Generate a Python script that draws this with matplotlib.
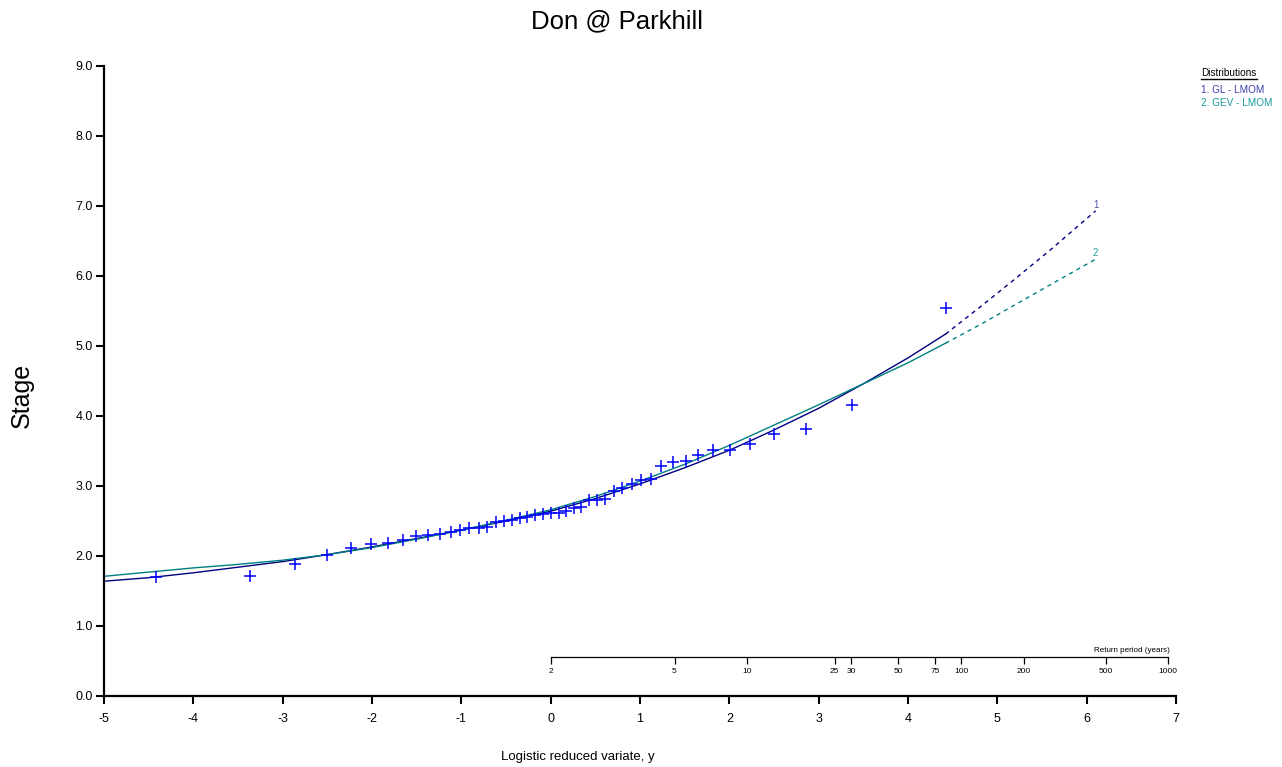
import numpy as np
import matplotlib
matplotlib.use('Agg')
import matplotlib.pyplot as plt
from matplotlib.lines import Line2D

plt.rcParams['font.family'] = ['Liberation Sans', 'DejaVu Sans']

# ---- data ----
reduced_variate = [-4.42, -3.37, -2.86, -2.50, -2.23, -2.01, -1.82, -1.65, -1.51, -1.37,
                   -1.24, -1.12, -1.01, -0.91, -0.80, -0.71, -0.61, -0.52, -0.43, -0.34,
                   -0.26, -0.17, -0.09, 0.00, 0.09, 0.17, 0.26, 0.34, 0.43, 0.52,
                   0.61, 0.71, 0.80, 0.91, 1.01, 1.12, 1.24, 1.37, 1.51, 1.65,
                   1.82, 2.01, 2.23, 2.50, 2.86, 3.37, 4.42]
stage = [1.70, 1.72, 1.88, 2.02, 2.11, 2.17, 2.19, 2.23, 2.29, 2.30,
         2.32, 2.35, 2.37, 2.40, 2.40, 2.42, 2.49, 2.50, 2.52, 2.54,
         2.56, 2.59, 2.60, 2.61, 2.62, 2.64, 2.68, 2.70, 2.80, 2.80,
         2.81, 2.93, 2.97, 3.03, 3.09, 3.10, 3.29, 3.34, 3.36, 3.45,
         3.51, 3.51, 3.60, 3.74, 3.81, 4.16, 5.55]

curve_x_solid = [-5.0, -4.5, -4.0, -3.5, -3.0, -2.5, -2.0, -1.5, -1.0, -0.5,
                 0.0, 0.5, 1.0, 1.5, 2.0, 2.5, 3.0, 3.5, 4.0, 4.42]
gl_solid = [1.64, 1.69, 1.76, 1.84, 1.92, 2.02, 2.13, 2.25, 2.37, 2.50,
            2.64, 2.82, 3.03, 3.26, 3.51, 3.80, 4.11, 4.46, 4.83, 5.17]
gev_solid = [1.71, 1.77, 1.83, 1.88, 1.94, 2.02, 2.12, 2.24, 2.37, 2.51,
             2.66, 2.85, 3.07, 3.31, 3.58, 3.87, 4.16, 4.46, 4.76, 5.04]
curve_x_dash = [4.42, 4.8, 5.2, 5.6, 6.1]
gl_dash = [5.17, 5.55, 5.96, 6.38, 6.93]
gev_dash = [5.04, 5.30, 5.59, 5.88, 6.24]

return_periods = [2, 5, 10, 25, 30, 50, 75, 100, 200, 500, 1000]
x_ticks = [-5, -4, -3, -2, -1, 0, 1, 2, 3, 4, 5, 6, 7]
y_ticks = [0, 1, 2, 3, 4, 5, 6, 7, 8, 9]

GL_COL = '#000080'
GEV_COL = '#008080'

W, H = 1282, 767
fig = plt.figure(figsize=(W / 100, H / 100), dpi=100)
ax = fig.add_axes([104 / W, (H - 696) / H, (1176 - 104) / W, (696 - 66) / H])

ax.set_xlim(-5, 7)
ax.set_ylim(0, 9)
for s in ('top', 'right'):
    ax.spines[s].set_visible(False)
for s in ('left', 'bottom'):
    ax.spines[s].set_linewidth(1.6)
ax.set_xticks(x_ticks)
ax.set_xticklabels([str(v) for v in x_ticks])
ax.set_yticks(y_ticks)
ax.set_yticklabels([f'{v:.1f}' for v in y_ticks])
ax.tick_params(axis='both', direction='out', length=6, width=1.5, labelsize=9)
ax.tick_params(axis='x', pad=6)
ax.tick_params(axis='y', pad=2)

# fitted curves
ax.plot(curve_x_solid, gl_solid, color=GL_COL, lw=1.0)
ax.plot(curve_x_solid, gev_solid, color=GEV_COL, lw=1.0)
ax.plot(curve_x_dash, gl_dash, color=GL_COL, lw=1.0, ls=(0, (3, 3)))
ax.plot(curve_x_dash, gev_dash, color=GEV_COL, lw=1.0, ls=(0, (3, 3)))
ax.text(curve_x_dash[-1], gl_dash[-1] + 0.02, '1', color='#5555aa', fontsize=7,
        ha='center', va='bottom')
ax.text(curve_x_dash[-1], gev_dash[-1] + 0.02, '2', color='#22a0a0', fontsize=7,
        ha='center', va='bottom')

# data points
ax.plot(reduced_variate, stage, ls='none', marker='+', color='#0000ff',
        markersize=9, markeredgewidth=1.1)

# return-period axis
rp_pos = [np.log(t - 1) for t in return_periods]
rax = ax.inset_axes([0, 0.557, np.log(999), 0.0001], transform=ax.transData)
rax.set_xlim(0, np.log(999))
rax.patch.set_visible(False)
for s in ('top', 'right', 'left'):
    rax.spines[s].set_visible(False)
rax.spines['bottom'].set_linewidth(0.9)
rax.set_yticks([])
rax.set_xticks(rp_pos)
rax.set_xticklabels([str(t) for t in return_periods])
rax.tick_params(axis='x', direction='out', length=5, width=0.9, labelsize=6, pad=3)
ax.text(np.log(999) + 0.02, 0.6, 'Return period (years)', fontsize=5.8, ha='right',
        va='bottom')

# titles
fig.text(617 / W, 1 - 21 / H, 'Don @ Parkhill', fontsize=18.5, ha='center', va='center')
fig.text(22 / W, 1 - 395 / H, 'Stage', fontsize=18, rotation=90, ha='center', va='center')
fig.text(578 / W, 1 - 757 / H, 'Logistic reduced variate, y', fontsize=9.5,
         ha='center', va='center')

# legend
fig.text(1201 / W, 1 - 73 / H, 'Distributions', fontsize=7.2, ha='left', va='center')
fig.add_artist(Line2D([1201 / W, 1257 / W], [1 - 79 / H, 1 - 79 / H], color='black',
                      lw=1.0, transform=fig.transFigure))
fig.text(1201 / W, 1 - 90 / H, '1. GL - LMOM', fontsize=7.2, ha='left', va='center',
         color='#3c3ca8')
fig.text(1201 / W, 1 - 103 / H, '2. GEV - LMOM', fontsize=7.2, ha='left', va='center',
         color='#1a9a9a')

fig.savefig('out.png', dpi=100)
